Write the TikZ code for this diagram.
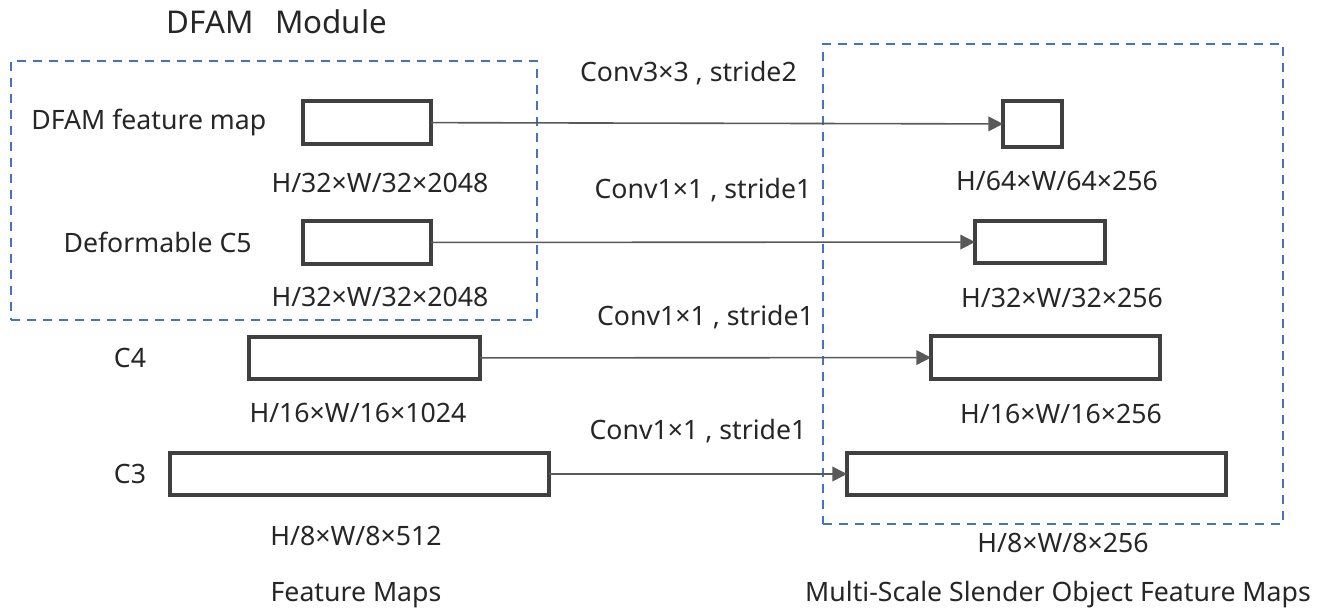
\documentclass[tikz,border=0pt]{standalone}
\usepackage{fontspec}
\setmainfont{Noto Sans}
\usetikzlibrary{positioning, arrows.meta}
\definecolor{boxgray}{HTML}{404040}
\definecolor{arrowgray}{HTML}{595959}
\definecolor{dashblue}{HTML}{4472C4}
\tikzset{
	every node/.append style={
		font=\fontsize{20}{24}\selectfont,
		text=black!85,
	},
	fmap/.style={
		draw=boxgray,
		line width=2.4pt,
		outer sep=0pt,
		inner sep=0pt,
	},
	group/.style={
		draw=dashblue,
		line width=2.2pt,
		dash pattern=on 7pt off 5pt,
		inner sep=0pt,
	},
	flow/.style={
		draw=arrowgray,
		line width=1.2pt,
		-{Triangle[length=11pt, width=11pt]},
	},
	conv/.style={
		inner sep=0pt,
	},
}

\begin{document}
\begin{tikzpicture}[x=0.75pt, y=-0.75pt]
		\useasboundingbox (0,0) rectangle (1322,609);
		
		% groups
		\node(dfam)[group, minimum width=394.5pt, minimum height=194.25pt] at (274,190.5) {};
		\node(msso)[group, minimum width=345pt, minimum height=360pt] at (1053,284) {};
		\node(dfamlbl)[font=\fontsize{23.5}{28}\selectfont] at (277,22) {DFAM\hspace{16pt}Module};
		
		% backbone feature maps
		\node(fm)[fmap, minimum width=96pt, minimum height=32.25pt] at (367,122.5) {};
		\node(c5)[fmap, minimum width=96pt, minimum height=32.25pt] at (367,242.5) {};
		\node(c4)[fmap, minimum width=173.25pt, minimum height=31.5pt] at (364.5,358) {};
		\node(c3)[fmap, minimum width=284.25pt, minimum height=31.5pt] at (359.5,474) {};
		
		% slender object feature maps
		\node(p6)[fmap, minimum width=44.25pt, minimum height=34.5pt] at (1032.5,124) {};
		\node(p5)[fmap, minimum width=97.5pt, minimum height=31.5pt] at (1040,242) {};
		\node(p4)[fmap, minimum width=171.75pt, minimum height=32.25pt] at (1045.5,357.5) {};
		\node(p3)[fmap, minimum width=284.25pt, minimum height=31.5pt] at (1036.5,474) {};
		
		\node(fmlbl)[left=24pt of fm] {DFAM feature map};
		\node(c5lbl)[left=35pt of c5] {Deformable C5};
		\node(c4lbl) at (130,358) {C4};
		\node(c3lbl) at (130,474) {C3};
		
		\node(fmdim) at (380,183) {H/32×W/32×2048};
		\node(c5dim) at (380,297) {H/32×W/32×2048};
		\node(c4dim) at (358,413) {H/16×W/16×1024};
		\node(c3dim) at (356,536) {H/8×W/8×512};
		
		\node(p6dim) at (1057,181) {H/64×W/64×256};
		\node(p5dim) at (1062,298) {H/32×W/32×256};
		\node(p4dim) at (1061,414) {H/16×W/16×256};
		\node(p3dim) at (1063,543) {H/8×W/8×256};
		
		\node(leftlbl) at (356,595) {Feature Maps};
		\node(rightlbl) at (1058,595) {Multi-Scale Slender Object Feature Maps};
		
		% connections
		\draw[flow] (fm) -- node[conv, pos=0.45, above=28pt] {Conv3×3 , stride2} (p6);
		\draw[flow] (c5) -- node[conv, above=30pt] {Conv1×1 , stride1} (p5);
		\draw[flow] (c4) -- node[conv, above=21pt] {Conv1×1 , stride1} (p4);
		\draw[flow] (c3) -- node[conv, above=23pt] {Conv1×1 , stride1} (p3);
\end{tikzpicture}
\end{document}
